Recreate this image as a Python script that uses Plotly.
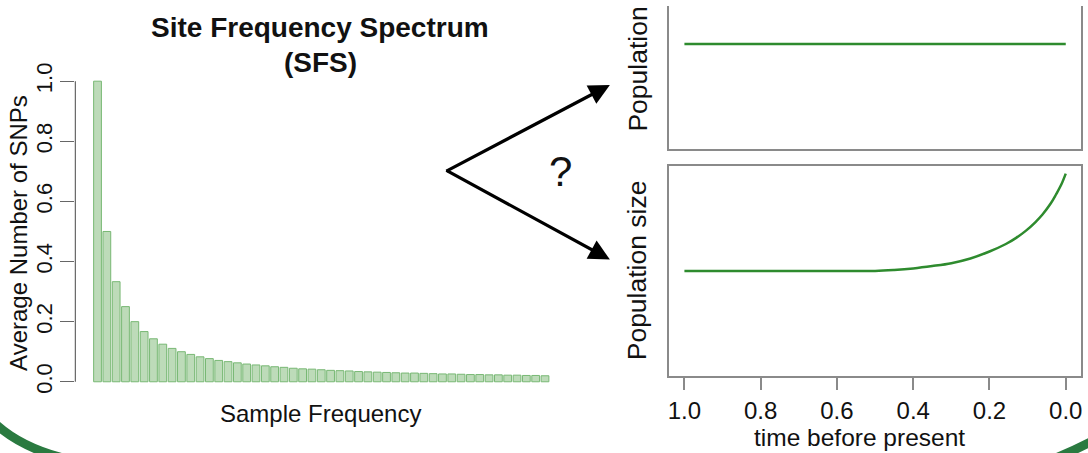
import plotly.graph_objects as go

W, H = 1088, 453

# ---------------- data ----------------
sfs_freq = list(range(1, 50))
sfs_values = [1.000, 0.500, 0.333, 0.250, 0.200, 0.167, 0.143, 0.125, 0.111, 0.100,
              0.091, 0.083, 0.077, 0.071, 0.067, 0.063, 0.059, 0.056, 0.053, 0.050,
              0.048, 0.045, 0.043, 0.042, 0.040, 0.038, 0.037, 0.036, 0.034, 0.033,
              0.032, 0.031, 0.030, 0.029, 0.029, 0.028, 0.027, 0.026, 0.026, 0.025,
              0.024, 0.024, 0.023, 0.023, 0.022, 0.022, 0.021, 0.021, 0.020]

const_time = [1.0, 0.8, 0.6, 0.4, 0.2, 0.0]
const_size = [1.0, 1.0, 1.0, 1.0, 1.0, 1.0]

growth_time = [1.0, 0.8, 0.6, 0.5, 0.45, 0.4, 0.35, 0.3, 0.25, 0.2, 0.157, 0.13,
               0.105, 0.08, 0.061, 0.04, 0.026, 0.012, 0.0]
growth_size = [1.0, 1.0, 1.0, 1.0, 1.01, 1.026, 1.05, 1.08, 1.128, 1.2, 1.277, 1.34,
               1.412, 1.5, 1.58, 1.69, 1.783, 1.885, 2.0]

time_ticks = [1.0, 0.8, 0.6, 0.4, 0.2, 0.0]
time_tick_labels = ["1.0", "0.8", "0.6", "0.4", "0.2", "0.0"]
sfs_ticks = [0.0, 0.2, 0.4, 0.6, 0.8, 1.0]
sfs_tick_labels = ["0.0", "0.2", "0.4", "0.6", "0.8", "1.0"]

# ---------------- helpers (pixel -> paper) ----------------
def px(x):
    return x / W

def py(y):
    return 1 - y / H

FONT = "Liberation Sans, Arial, sans-serif"
GREEN = "#2e8b2e"
BOXC = "#8a8a8a"

fig = go.Figure()

fig.add_trace(go.Bar(
    x=sfs_freq, y=sfs_values,
    marker=dict(color="#bddbb9", line=dict(color="#78b874", width=1)),
    xaxis="x", yaxis="y", showlegend=False,
))

fig.add_trace(go.Scatter(
    x=const_time, y=const_size, mode="lines",
    line=dict(color=GREEN, width=2.5),
    xaxis="x2", yaxis="y2", showlegend=False,
))

fig.add_trace(go.Scatter(
    x=growth_time, y=growth_size, mode="lines",
    line=dict(color=GREEN, width=2.5, shape="spline", smoothing=1.0),
    xaxis="x3", yaxis="y3", showlegend=False,
))

# bar panel x range: bar centres at 96.7 .. 545 px, domain 74.5 .. 567
pitch = (545 - 96.7) / 48
xr0 = 1 - (96.7 - 74.5) / pitch
xr1 = 49 + (567 - 545) / pitch

fig.update_layout(
    width=W, height=H,
    margin=dict(l=0, r=0, t=0, b=0),
    paper_bgcolor="white", plot_bgcolor="white",
    bargap=1 - 1 / 1.2,
    font=dict(family=FONT, color="black"),
    xaxis=dict(domain=[px(74.5), px(567)], range=[xr0, xr1], visible=False),
    yaxis=dict(domain=[py(393), py(64)], range=[-0.04, 1.04],
               tickvals=sfs_ticks, ticktext=sfs_tick_labels,
               ticks="outside", ticklen=14, tickcolor="#666", tickwidth=1.2,
               tickangle=-90, tickfont=dict(size=22, family=FONT, color="#111"),
               showline=False, showgrid=False, zeroline=False),
    xaxis2=dict(domain=[px(669.4), px(1082)], range=[1.04, -0.04],
                anchor="y2", showticklabels=False, ticks="",
                showline=True, linecolor=BOXC, linewidth=2, mirror=False,
                showgrid=False, zeroline=False),
    yaxis2=dict(domain=[py(145), 1.0], range=[-0.08, -0.08 + 145 / 98.6],
                anchor="x2", showticklabels=False, ticks="",
                showline=True, linecolor=BOXC, linewidth=2, mirror=True,
                showgrid=False, zeroline=False),
    xaxis3=dict(domain=[px(669.4), px(1082)], range=[1.04, -0.04],
                anchor="y3", tickvals=time_ticks, ticktext=time_tick_labels,
                ticks="outside", ticklen=12, tickcolor=BOXC, tickwidth=1.5,
                tickfont=dict(size=24, family=FONT, color="#111"),
                showline=True, linecolor=BOXC, linewidth=2, mirror=True,
                showgrid=False, zeroline=False),
    yaxis3=dict(domain=[py(375), py(162)], range=[-0.08, 2.08],
                anchor="x3", showticklabels=False, ticks="",
                showline=True, linecolor=BOXC, linewidth=2, mirror=True,
                showgrid=False, zeroline=False),
)

# left axis line (only from 0 to 1, R style)
fig.add_shape(type="line", xref="x domain", yref="y", x0=0, x1=0, y0=0, y1=1,
              line=dict(color="#666", width=1.2))

def path_px(cmds):
    out = []
    for c in cmds:
        if isinstance(c, str):
            out.append(c)
        else:
            out.append(f"{px(c[0]):.5f},{py(c[1]):.5f}")
    return " ".join(out)

# decorative frame arcs
fig.add_shape(type="path", xref="paper", yref="paper",
              path=path_px(["M", (-5, 424), "Q", (20, 447), (62, 458)]),
              line=dict(color="#2a7a40", width=9))
fig.add_shape(type="path", xref="paper", yref="paper",
              path=path_px(["M", (1052, 460), "Q", (1072, 452), (1095, 440)]),
              line=dict(color="#2a7a40", width=9))

ann = []
ann.append(dict(text="<b>Site Frequency Spectrum</b>", x=px(320), y=py(22),
                xref="paper", yref="paper", showarrow=False,
                font=dict(size=28, family=FONT, color="#111"),
                xanchor="center", yanchor="middle"))
ann.append(dict(text="<b>(SFS)</b>", x=px(320), y=py(57),
                xref="paper", yref="paper", showarrow=False,
                font=dict(size=28, family=FONT, color="#111"),
                xanchor="center", yanchor="middle"))
ann.append(dict(text="Average Number of SNPs", x=px(18), y=py(230),
                xref="paper", yref="paper", showarrow=False, textangle=-90,
                font=dict(size=24, family=FONT, color="#111"),
                xanchor="center", yanchor="middle"))
ann.append(dict(text="Sample Frequency", x=px(320), y=py(413),
                xref="paper", yref="paper", showarrow=False,
                font=dict(size=24, family=FONT, color="#111"),
                xanchor="center", yanchor="middle"))
ann.append(dict(text="Population size", x=px(638), y=py(268),
                xref="paper", yref="paper", showarrow=False, textangle=-90,
                font=dict(size=26.5, family=FONT, color="#111"),
                xanchor="center", yanchor="middle"))
ann.append(dict(text="Population", x=px(638), y=py(129),
                xref="paper", yref="paper", showarrow=False, textangle=-90,
                font=dict(size=26.5, family=FONT, color="#111"),
                xanchor="center", yanchor="bottom"))
ann.append(dict(text="time before present", x=px(860), y=py(453),
                xref="paper", yref="paper", showarrow=False,
                font=dict(size=24.5, family=FONT, color="#111"),
                xanchor="center", yanchor="bottom"))
ann.append(dict(text="?", x=px(561), y=py(168),
                xref="paper", yref="paper", showarrow=False,
                font=dict(size=42, family=FONT, color="#111"),
                xanchor="center", yanchor="middle"))
# arrows
for tip in [(610, 80), (610, 257)]:
    ann.append(dict(text="", x=px(tip[0]), y=py(tip[1]), xref="paper", yref="paper",
                    showarrow=True, arrowhead=2, arrowsize=1.3, arrowwidth=3.2,
                    arrowcolor="black", standoff=0,
                    ax=445 - tip[0], ay=167 - tip[1]))
fig.update_layout(annotations=ann)

fig.write_html("out.html")
